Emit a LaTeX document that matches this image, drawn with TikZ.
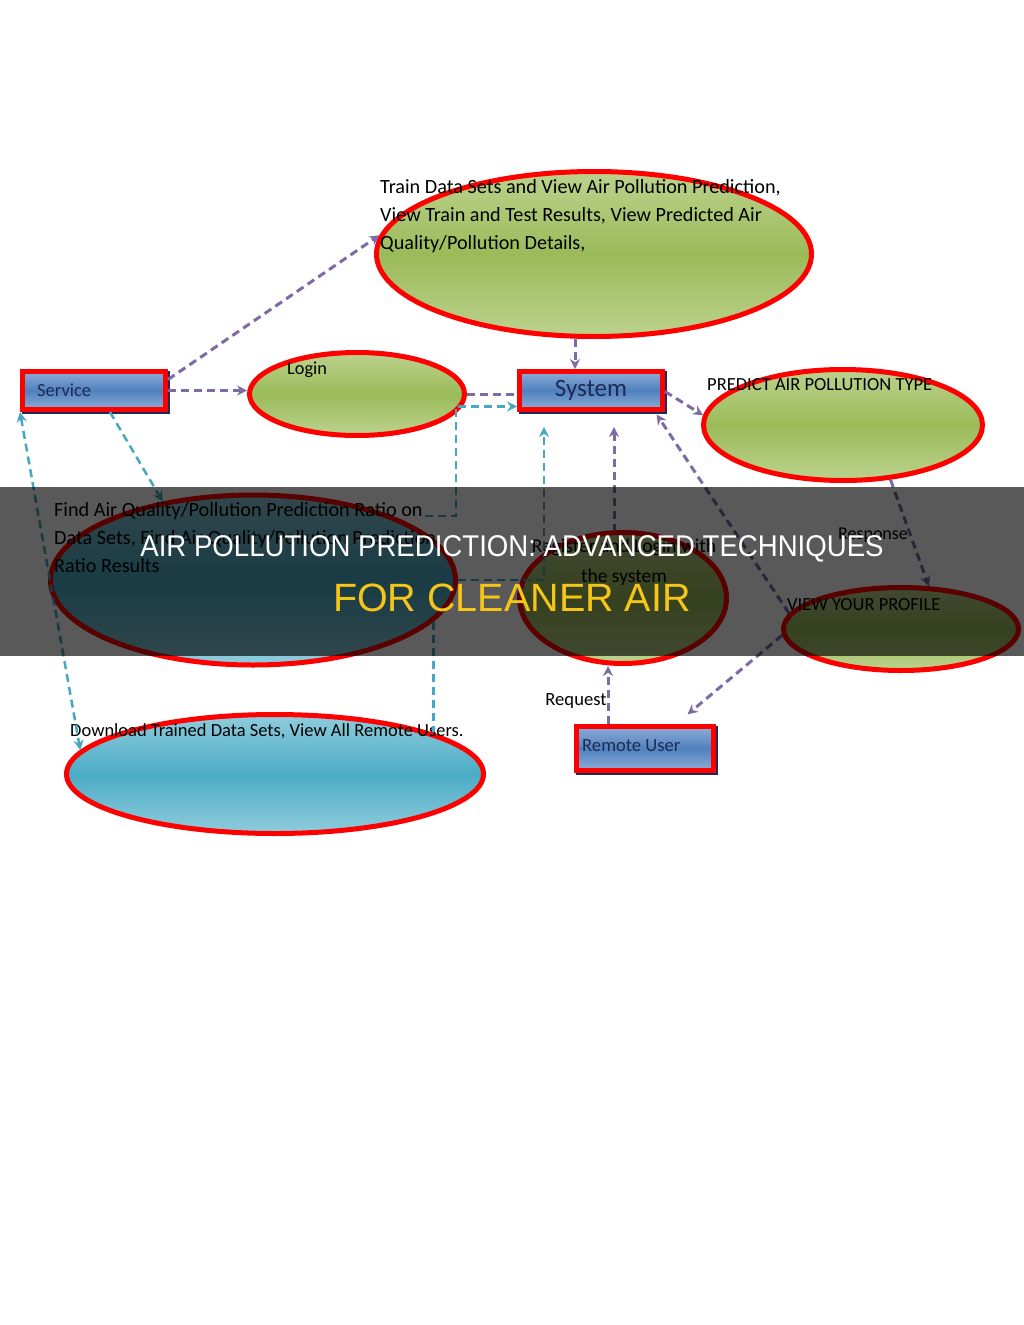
\documentclass[tikz,border=0pt]{standalone}
\usepackage{fontspec}
\setmainfont{Carlito}
\newfontfamily\titlefont{Liberation Sans}
\newfontfamily\titlenarrow[FakeStretch=0.92]{Liberation Sans}
\usetikzlibrary{shapes.geometric,arrows.meta,calc}
\definecolor{pur}{HTML}{7F6AA8}
\definecolor{tea}{HTML}{45A8C0}
\definecolor{gA}{HTML}{BCD28E}
\definecolor{gB}{HTML}{9BBB59}
\definecolor{bA}{HTML}{8FCCDC}
\definecolor{bB}{HTML}{4BACC6}
\definecolor{kA}{HTML}{8FACD8}
\definecolor{kB}{HTML}{4F81BD}
\definecolor{navy}{HTML}{1F2A55}
\definecolor{ttl}{HTML}{F5C518}
\newcommand\fsz[1]{\fontsize{#1}{#1}\selectfont}
\begin{document}
\begin{tikzpicture}[x=1pt,y=-1pt,
  >={Stealth[length=10pt,width=10pt]},
  ell/.style={ellipse, draw=red, line width=5pt, inner sep=0pt},
  grn/.style={top color=gA, bottom color=gA, middle color=gB},
  blu/.style={top color=bA, bottom color=bA, middle color=bB},
  boxn/.style={rectangle, draw=red, line width=5pt, inner sep=0pt,
    top color=kA, bottom color=kA, middle color=kB, text=navy,
    preaction={draw=navy, line width=5pt, transform canvas={shift={(1.5pt,-1.8pt)}}}},
  pline/.style={draw=pur, line width=3pt, dash pattern=on 8pt off 5pt},
  tline/.style={draw=tea, line width=2.5pt, dash pattern=on 8pt off 5pt},
  lbl/.style={anchor=base west, inner sep=0pt, text=black},
]
\useasboundingbox (0,0) rectangle (1024,1325);
\fill[white] (0,0) rectangle (1024,1325);

% shapes
\node[ell, grn, minimum width=435pt, minimum height=165pt] (top) at (594,254) {};
\node[ell, grn, minimum width=215pt, minimum height=83pt] (login) at (357,394) {};
\node[ell, grn, minimum width=279pt, minimum height=111pt] (predict) at (843,425) {};
\node[ell, blu, minimum width=405pt, minimum height=170pt] (find) at (253,580) {};
\node[ell, grn, minimum width=207pt, minimum height=131pt] (register) at (623,598) {};
\node[ell, grn, minimum width=235pt, minimum height=83pt] (profile) at (901,629) {};
\node[ell, blu, minimum width=417pt, minimum height=119pt] (download) at (275,774) {};

\node[boxn, minimum width=143pt, minimum height=38pt] (service) at (94,390.5) {};
\node[boxn, minimum width=143pt, minimum height=38pt, font=\fsz{25}] (system) at (591,390.5) {\raisebox{-4pt}{System}};
\node[boxn, minimum width=137pt, minimum height=44pt] (remote) at (645,748.5) {};

% texts
\node[lbl, font=\fsz{20.2}] (t1) at (380,193) {Train Data Sets and View Air Pollution Prediction,};
\node[lbl, font=\fsz{20.2}] (t2) at (380,221) {View Train and Test Results, View Predicted Air};
\node[lbl, font=\fsz{20.2}] (t3) at (380,249) {Quality/Pollution Details,};
\node[lbl, font=\fsz{18.5}, text=navy] (servtxt) at (37,396) {Service};
\node[lbl, font=\fsz{18.3}] (logtxt) at (287,374) {Login};
\node[lbl, font=\fsz{18.5}] (predtxt) at (707,390) {PREDICT AIR POLLUTION TYPE};
\node[lbl, font=\fsz{20.2}] (f1) at (54,516) {Find Air Quality/Pollution Prediction Ratio on};
\node[lbl, font=\fsz{20.2}] (f2) at (54,544) {Data Sets, Find Air Quality/Pollution Prediction};
\node[lbl, font=\fsz{20.2}] (f3) at (54,572) {Ratio Results};
\node[align=center, inner sep=0pt, font=\fontsize{19.5}{30}\selectfont] (regtxt) at (624,562) {Register and Login with\\the system};
\node[lbl, font=\fsz{18.5}] (proftxt) at (787,610) {VIEW YOUR PROFILE};
\node[lbl, font=\fsz{18.5}] (dltxt) at (70,736) {Download Trained Data Sets, View All Remote Users.};
\node[lbl, font=\fsz{18.6}, text=navy] (remtxt) at (582,751) {Remote User};
\node[inner sep=0pt, font=\fsz{18.6}] (reqtxt) at (576,701) {Request};
\node[inner sep=0pt, font=\fsz{18}] (resptxt) at (873,535) {Response};

% connectors
\draw[pline,->] ([yshift=11pt]service.east) -- (top.175);
\draw[pline,->] (service.east) -- (service.east -| login.west);
\draw[pline] (login.east) -- (login.east -| system.west);
\coordinate (jn) at (456,407);
\draw[tline,->] ([xshift=2pt]f1.base east) -| (jn) |- ([yshift=-16pt]system.west);
\draw[pline,->] ([xshift=-19pt]top.south) -- ([xshift=-16pt]system.north);
\draw[pline,->] ([yshift=-1pt]system.east) -- (predict.176);
\draw[tline,->] ([xshift=16pt]service.south) -- (find.139);
\draw[tline,<->] (service.south west) -- (download.173);
\draw[tline] (find.-13.6) -- (find.-13.6 |- download.15);
\draw[tline,->,shorten >=15pt] (find.east) -| ([xshift=-47pt]system.south);
\draw[pline,<-,shorten <=15pt] ([xshift=23pt]system.south) -- ([xshift=23pt]system.south |- register.north);
\draw[pline,->,shorten >=3pt] (profile.172) -- ([xshift=-10pt]system.south east);
\draw[pline,->] (predict.-49) -- (profile.57);
\draw[pline,->,shorten >=15pt] (profile.183) -- ([xshift=31pt]remote.north);
\draw[pline,->] ([xshift=-37pt]remote.north) -- ([xshift=-37pt]remote.north |- register.south);

% title band
\fill[black, opacity=0.65] (0,487) rectangle (1024,656);
\node[font=\titlenarrow\fsz{30}, text=white, inner sep=0pt] (title1) at (512,549) {AIR POLLUTION PREDICTION: ADVANCED TECHNIQUES};
\node[font=\titlefont\fsz{39.5}, text=ttl, inner sep=0pt] (title2) at (512,598) {FOR CLEANER AIR};
\end{tikzpicture}
\end{document}
